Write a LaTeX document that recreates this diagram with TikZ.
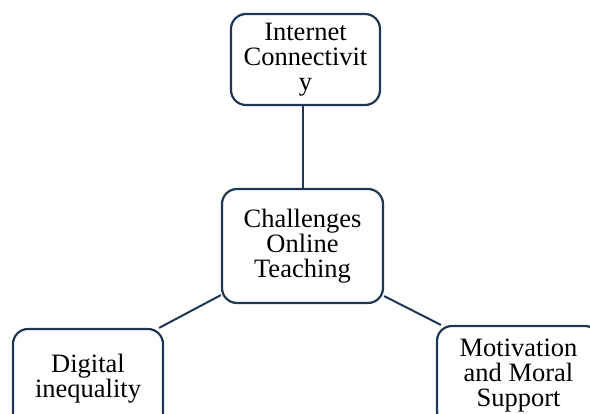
\documentclass[tikz,border=0pt]{standalone}
\usepackage{fontspec}
\setmainfont{Liberation Serif}
\definecolor{navy}{RGB}{31,55,84}

\begin{document}
\begin{tikzpicture}[x=1pt, y=-1pt,
    box/.style={draw=navy, line width=2.2pt, rounded corners=15pt, inner sep=0pt,
        align=center, font=\fontsize{26.5}{25}\selectfont}]

    % Frame of the page (bottom boxes run off the edge)
    \clip (0,0) rectangle (590,414);

    % Boxes
    \node[box, minimum width=149pt, minimum height=91pt] (net) at (305.5,59.5)
        {Internet\\Connectivit\\y};
    \node[box, minimum width=161pt, minimum height=114pt] (chal) at (302.5,246)
        {Challenges\\Online\\Teaching};
    \node[box, minimum width=150pt, minimum height=100pt] (ineq) at (88,379)
        {Digital\\inequality};
    \node[box, minimum width=163pt, minimum height=100pt] (motiv) at (518.5,376)
        {Motivation\\and Moral\\Support};

    % Connectors
    \draw[navy, line width=2pt] (chal.north) -- (chal.north |- net.south);
    \draw[navy, line width=2pt] ([yshift=9pt]chal.south west) -- ([xshift=-5pt]ineq.north east);
    \draw[navy, line width=2pt] ([yshift=8pt]chal.south east) -- ([xshift=5pt]motiv.north west);

\end{tikzpicture}
\end{document}
